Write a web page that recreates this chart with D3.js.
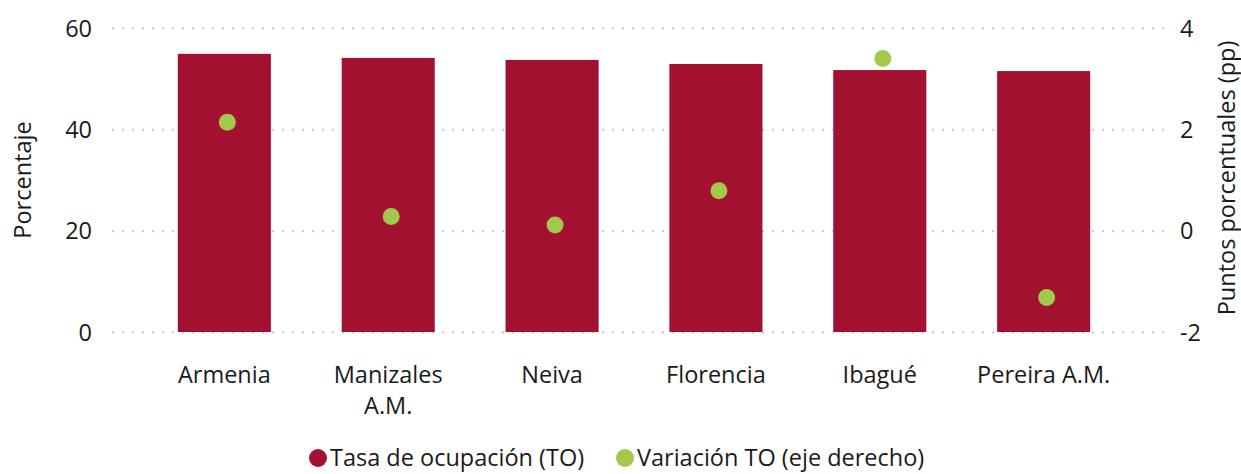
<!DOCTYPE html>
<html>
<head>
<meta charset="utf-8">
<script src="https://cdn.jsdelivr.net/npm/d3@7"></script>
<style>
  body { margin: 0; background: #fff; }
  text { font-family: "Open Sans", "Noto Sans", sans-serif; fill: #1a1a1a; }
</style>
</head>
<body>
<svg id="chart" width="1241" height="474"></svg>
<script>
const cities = [["Armenia"], ["Manizales", "A.M."], ["Neiva"], ["Florencia"], ["Ibagué"], ["Pereira A.M."]]
const tasa = [54.9, 54.1, 53.7, 52.9, 51.7, 51.5]
const variacion = [2.14, 0.28, 0.11, 0.79, 3.40, -1.32]
const leftTicks = [0, 20, 40, 60]
const rightTicks = [-2, 0, 2, 4]

const svg = d3.select("#chart")
const fontSize = 23.5

const x = d3.scaleBand()
  .domain(d3.range(cities.length))
  .range([109, 1159])
  .paddingInner(0.432)
  .paddingOuter(0.42)

const yL = d3.scaleLinear().domain([0, 60]).range([332, 28])
const yR = d3.scaleLinear().domain([-2, 4]).range([332, 28])

// gridlines
svg.append("g")
  .selectAll("line")
  .data(leftTicks)
  .join("line")
  .attr("x1", 112).attr("x2", 1164)
  .attr("y1", d => yL(d) + 0.5).attr("y2", d => yL(d) + 0.5)
  .attr("stroke", "#c8c8c8")
  .attr("stroke-width", 2)
  .attr("stroke-dasharray", "2,8")

// bars
svg.append("g")
  .selectAll("rect")
  .data(tasa)
  .join("rect")
  .attr("x", (d, i) => x(i))
  .attr("width", x.bandwidth())
  .attr("y", d => yL(d))
  .attr("height", d => yL(0) - yL(d))
  .attr("fill", "#A31130")

// dots
svg.append("g")
  .selectAll("circle")
  .data(variacion)
  .join("circle")
  .attr("cx", (d, i) => x(i) + x.bandwidth() / 2 + 3)
  .attr("cy", d => yR(d))
  .attr("r", 8.5)
  .attr("fill", "#A2C84C")

// left axis
const axL = svg.append("g")
  .attr("transform", "translate(92,0)")
  .call(d3.axisLeft(yL).tickValues(leftTicks).tickSize(0).tickPadding(0))
axL.select(".domain").remove()
axL.selectAll("text").attr("font-size", fontSize).attr("dy", "0.35em")

// right axis
const axR = svg.append("g")
  .attr("transform", "translate(1180,0)")
  .call(d3.axisRight(yR).tickValues(rightTicks).tickFormat(d => String(d)).tickSize(0).tickPadding(0))
axR.select(".domain").remove()
axR.selectAll("text").attr("font-size", fontSize).attr("dy", "0.35em")

// x labels
const xl = svg.append("g")
  .selectAll("text")
  .data(cities)
  .join("text")
  .attr("x", (d, i) => x(i) + x.bandwidth() / 2)
  .attr("y", 383)
  .attr("text-anchor", "middle")
  .attr("font-size", fontSize)
xl.selectAll("tspan")
  .data(d => d)
  .join("tspan")
  .attr("x", function () { return this.parentNode.getAttribute("x") })
  .attr("dy", (d, i) => i ? 31 : 0)
  .text(d => d)

// axis titles
svg.append("text")
  .attr("transform", "translate(31,180) rotate(-90)")
  .attr("text-anchor", "middle")
  .attr("font-size", fontSize)
  .text("Porcentaje")

svg.append("text")
  .attr("transform", "translate(1227,178) rotate(-90)")
  .attr("text-anchor", "middle")
  .attr("dy", "0.35em")
  .attr("font-size", fontSize)
  .text("Puntos porcentuales (pp)")

// legend
const legendItems = [
  { label: "Tasa de ocupación (TO)", color: "#A31130", x: 318 },
  { label: "Variación TO (eje derecho)", color: "#A2C84C", x: 625 }
]
const lg = svg.append("g")
  .selectAll("g")
  .data(legendItems)
  .join("g")
  .attr("transform", d => `translate(${d.x},458)`)
lg.append("circle").attr("r", 9).attr("fill", d => d.color)
lg.append("text")
  .attr("x", 12)
  .attr("dy", "0.35em")
  .attr("font-size", fontSize)
  .text(d => d.label)
</script>
</body>
</html>
